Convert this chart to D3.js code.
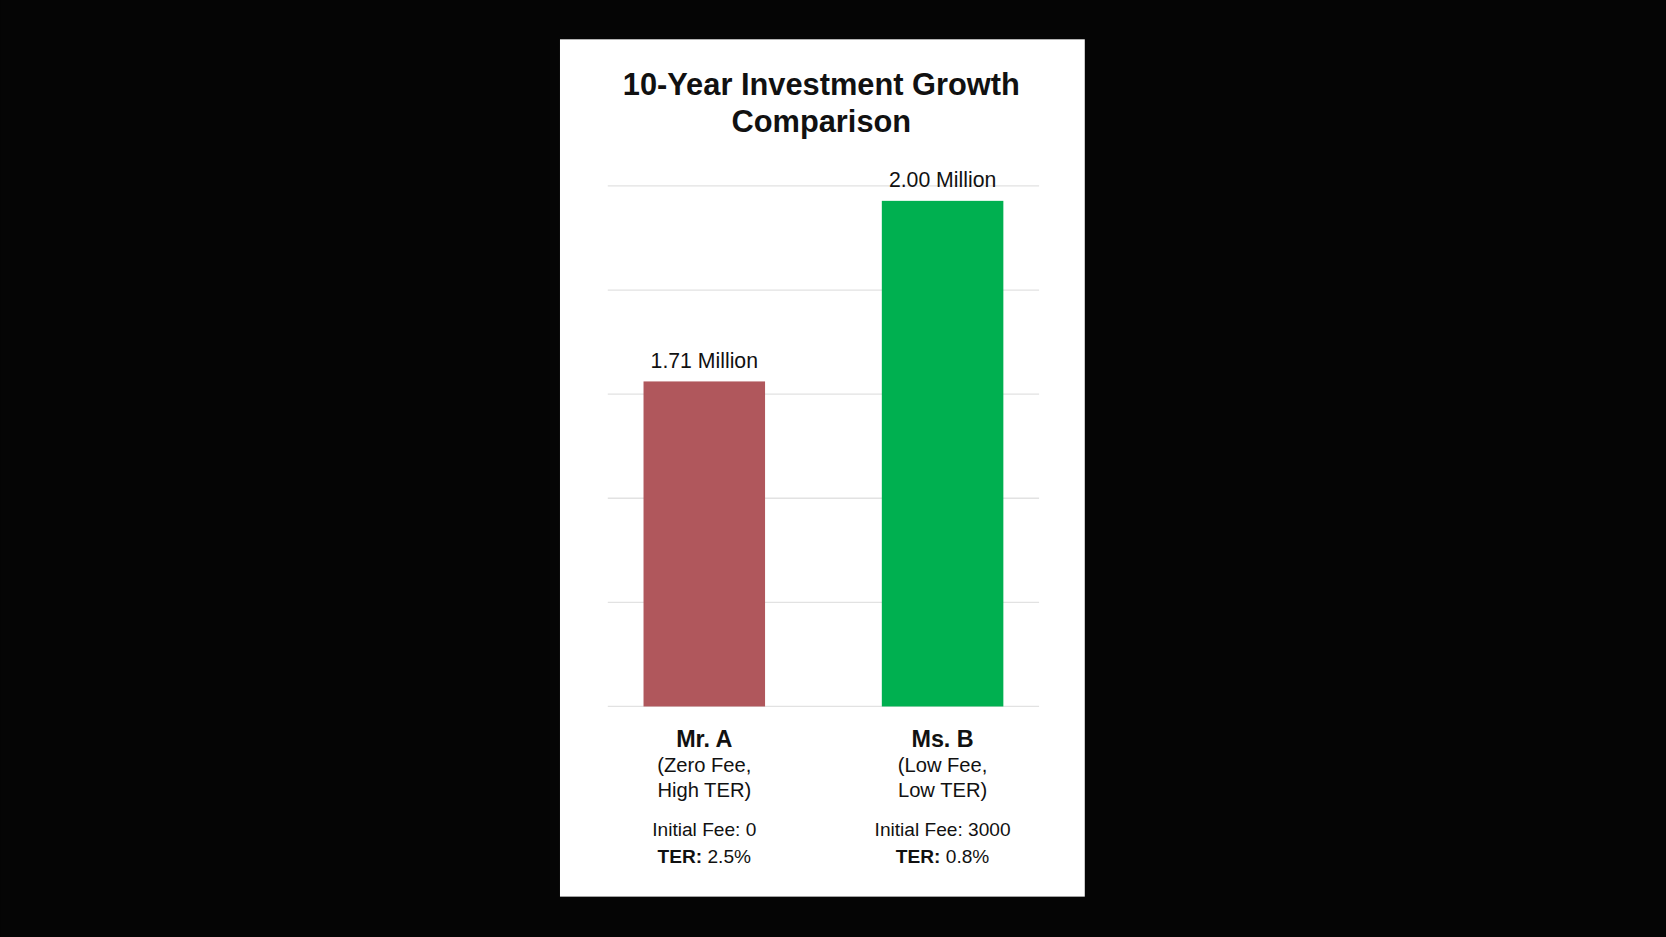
<!DOCTYPE html>
<html><head><meta charset="utf-8">
<script src="https://cdn.jsdelivr.net/npm/d3@7"></script>
<style>html,body{margin:0;background:#050505;overflow:hidden}</style>
</head><body>
<svg id="c" width="1666" height="937" viewBox="0 0 1568 882"></svg>
<script>
const names = ["Mr. A", "Ms. B"];
const subtitles1 = ["(Zero Fee,", "(Low Fee,"];
const subtitles2 = ["High TER)", "Low TER)"];
const initialFees = ["0", "3000"];
const ters = ["2.5%", "0.8%"];
const values = [1.71, 2.00];
const valueLabels = ["1.71 Million", "2.00 Million"];
const colors = ["#b0575c", "#00b050"];

const svg = d3.select("#c");
const font = "'Liberation Sans', Arial, sans-serif";
svg.append("rect").attr("width",1568).attr("height",882).attr("fill","#050505");
svg.append("rect").attr("x",527).attr("y",37).attr("width",494).attr("height",807).attr("fill","#fff");

svg.append("text").attr("x",773).attr("y",89).attr("text-anchor","middle").attr("font-family",font)
  .attr("font-weight","bold").attr("font-size",29).attr("fill","#111").text("10-Year Investment Growth");
svg.append("text").attr("x",773).attr("y",124).attr("text-anchor","middle").attr("font-family",font)
  .attr("font-weight","bold").attr("font-size",29).attr("fill","#111").text("Comparison");

const y = d3.scaleLinear().domain([1.188, 2.024]).range([665, 175]);
const x = d3.scaleBand().domain(names).range([572, 978]).paddingInner(0.49).paddingOuter(0.15);

const ticks = d3.range(6).map(i => y.domain()[0] + i*(y.domain()[1]-y.domain()[0])/5);
svg.append("g").selectAll("line").data(ticks).join("line")
  .attr("x1",572).attr("x2",978).attr("y1",d=>y(d)).attr("y2",d=>y(d))
  .attr("stroke","#e2e2e2").attr("stroke-width",1.2);

svg.append("g").selectAll("rect").data(values).join("rect")
  .attr("x",(d,i)=>x(names[i])).attr("width",x.bandwidth())
  .attr("y",d=>y(d)).attr("height",d=>y(y.domain()[0])-y(d)).attr("fill",(d,i)=>colors[i]);

svg.append("g").selectAll("text").data(values).join("text")
  .attr("x",(d,i)=>x(names[i])+x.bandwidth()/2).attr("y",d=>y(d)-13)
  .attr("text-anchor","middle").attr("font-family",font).attr("font-size",20).attr("fill","#111")
  .text((d,i)=>valueLabels[i]);

names.forEach((n,i)=>{
  const cx = x(n)+x.bandwidth()/2;
  const g = svg.append("g").attr("font-family",font).attr("fill","#111").attr("text-anchor","middle");
  g.append("text").attr("x",cx).attr("y",703).attr("font-weight","bold").attr("font-size",22).text(n);
  g.append("text").attr("x",cx).attr("y",727).attr("font-size",19).text(subtitles1[i]);
  g.append("text").attr("x",cx).attr("y",750).attr("font-size",19).text(subtitles2[i]);
  g.append("text").attr("x",cx).attr("y",787).attr("font-size",18).text("Initial Fee: "+initialFees[i]);
  const t = g.append("text").attr("x",cx).attr("y",812).attr("font-size",18);
  t.append("tspan").attr("font-weight","bold").text("TER:");
  t.append("tspan").text(" "+ters[i]);
});
</script>
</body></html>
